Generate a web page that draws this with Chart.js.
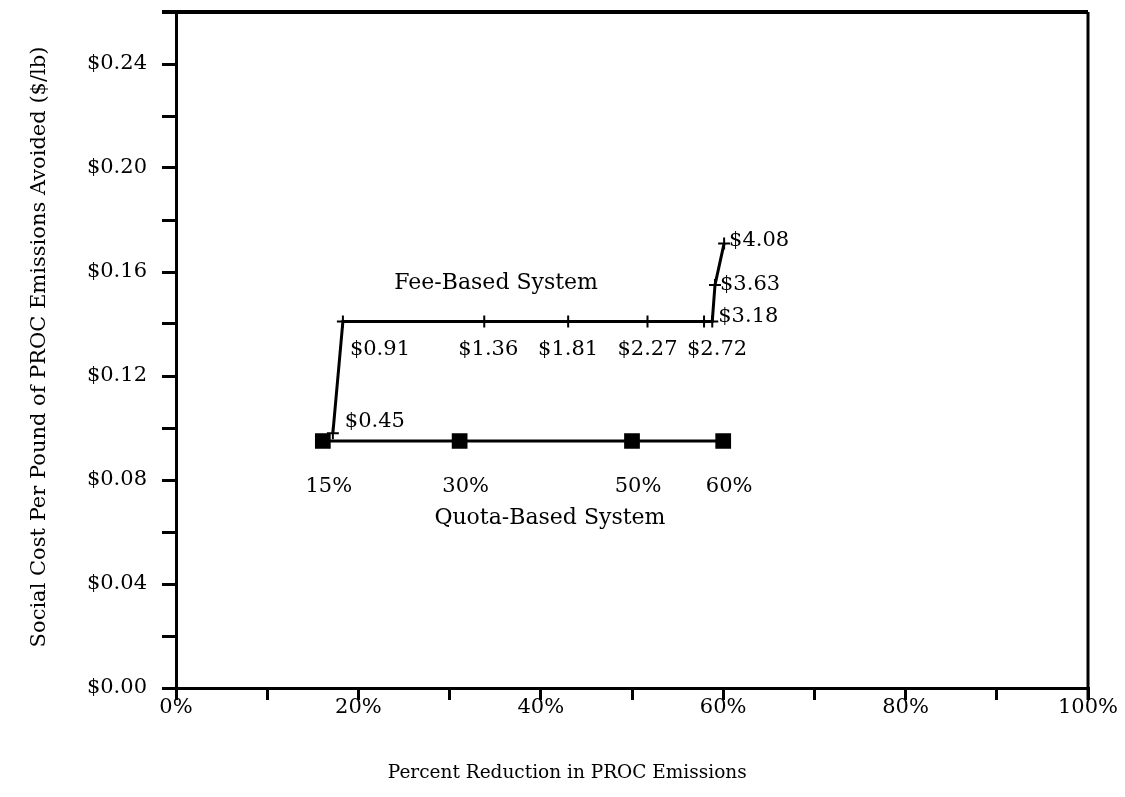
<!DOCTYPE html>
<html>
<head>
<meta charset="utf-8">
<script src="https://cdn.jsdelivr.net/npm/chart.js@4/dist/chart.umd.min.js"></script>
<style>
    html, body { margin: 0; padding: 0; background: #fff; }
    #wrap { width: 1125px; height: 797px; }
</style>
</head>
<body>
<div id="wrap"><canvas id="graficoCanvas"></canvas></div>
<script>
// Fee-based system: % reduction, cost per lb avoided, fee labels
const feeReduction = [17.2, 18.3, 33.8, 43.0, 51.7, 57.9, 58.8, 59.1, 60.1]
const feeCost = [0.098, 0.141, 0.141, 0.141, 0.141, 0.141, 0.141, 0.155, 0.171]
const feeLabels = ['$0.45', '$0.91', '$1.36', '$1.81', '$2.27', '$2.72', '$3.18', '$3.63', '$4.08']

// Quota-based system
const quotaReduction = [16.1, 31.1, 50.0, 60.0]
const quotaCost = [0.095, 0.095, 0.095, 0.095]
const quotaLabels = ['15%', '30%', '50%', '60%']

// labelled ticks (minor ticks in between carry no text)
const xTickLabels = [0, 20, 40, 60, 80, 100]
const yTickLabels = [0, 4, 8, 12, 16, 20, 24]   // cents

const FONTE = '"DejaVu Serif", serif'

// label offsets from their point, in px: [dx, dy, align]
const feeLabelOffsets = [[12, -12, 'left'], [7, 28, 'left'], [4, 28, 'center'], [0, 28, 'center'], [0, 28, 'center'],
    [13, 28, 'center'], [6, -5, 'left'], [5, 0, 'left'], [5, -3, 'left']]
const quotaLabelOffsets = quotaLabels.map(() => [6, 46, 'center'])

const textosPlugin = {
    id: 'textos',
    afterDatasetsDraw(chart) {
        const ctx = chart.ctx
        const x = chart.scales.x
        const y = chart.scales.y
        const area = chart.chartArea
        ctx.save()
        ctx.fillStyle = '#000'
        ctx.textBaseline = 'middle'
        ctx.font = `21px ${FONTE}`
        chart.data.datasets.forEach((ds, i) => {
            let meta = chart.getDatasetMeta(i)
            meta.data.forEach((pt, j) => {
                let off = ds.labelOffsets[j]
                ctx.textAlign = off[2]
                ctx.fillText(ds.pointLabels[j], pt.x + off[0], pt.y + off[1])
            })
        })
        ctx.textAlign = 'center'
        ctx.font = `22px ${FONTE}`
        ctx.fillText('Fee-Based System', x.getPixelForValue(35.1), y.getPixelForValue(0.1557))
        ctx.fillText('Quota-Based System', x.getPixelForValue(41), y.getPixelForValue(0.0652))

        // axis titles
        ctx.font = `18.5px ${FONTE}`
        ctx.fillText('Percent Reduction in PROC Emissions', x.getPixelForValue(42.9), area.bottom + 85)
        ctx.font = `21px ${FONTE}`
        ctx.translate(40, (area.top + area.bottom) / 2 - 3)
        ctx.rotate(-Math.PI / 2)
        ctx.fillText('Social Cost Per Pound of PROC Emissions Avoided ($/lb)', 0, 0)
        ctx.restore()
    }
}

const molduraPlugin = {
    id: 'moldura',
    afterDraw(chart) {
        const { ctx, chartArea: { top, right, bottom, left } } = chart
        ctx.save()
        ctx.strokeStyle = '#000'
        ctx.lineWidth = 4
        ctx.beginPath()
        ctx.moveTo(left - 14, top)
        ctx.lineTo(right, top)
        ctx.stroke()
        ctx.lineWidth = 3
        ctx.beginPath()
        ctx.moveTo(right, top)
        ctx.lineTo(right, bottom + 12)
        ctx.stroke()
        ctx.restore()
    }
}

new Chart(document.getElementById('graficoCanvas'), {
    type: 'line',
    data: {
        datasets: [
            {
                label: 'Fee-Based System',
                data: feeReduction.map((v, i) => ({ x: v, y: feeCost[i] })),
                pointLabels: feeLabels,
                labelOffsets: feeLabelOffsets,
                borderColor: '#000',
                backgroundColor: '#000',
                borderWidth: 3,
                pointStyle: 'cross',
                pointRadius: 6,
                pointBorderWidth: 2,
                tension: 0
            },
            {
                label: 'Quota-Based System',
                data: quotaReduction.map((v, i) => ({ x: v, y: quotaCost[i] })),
                pointLabels: quotaLabels,
                labelOffsets: quotaLabelOffsets,
                borderColor: '#000',
                backgroundColor: '#000',
                borderWidth: 3,
                pointStyle: 'rect',
                pointRadius: 9,
                tension: 0
            }
        ]
    },
    options: {
        responsive: true,
        maintainAspectRatio: false,
        animation: false,
        layout: {
            padding: { left: 0, right: 37, top: 10, bottom: 0 }
        },
        plugins: {
            legend: { display: false },
            tooltip: { enabled: false }
        },
        scales: {
            x: {
                type: 'linear',
                min: 0,
                max: 100,
                border: { color: '#000', width: 3 },
                grid: { drawOnChartArea: false, color: '#000', lineWidth: 3, tickLength: 12 },
                ticks: {
                    stepSize: 10,
                    autoSkip: false,
                    maxRotation: 0,
                    padding: -5,
                    color: '#000',
                    font: { family: FONTE, size: 21 },
                    callback: function (value) {
                        return xTickLabels.includes(Math.round(value)) ? value + '%' : ''
                    }
                },
                afterFit: function (scale) {
                    scale.height = 109
                }
            },
            y: {
                type: 'linear',
                min: 0,
                max: 0.26,
                border: { color: '#000', width: 3 },
                grid: { drawOnChartArea: false, color: '#000', lineWidth: 3, tickLength: 14 },
                ticks: {
                    stepSize: 0.02,
                    autoSkip: false,
                    padding: 15,
                    color: '#000',
                    font: { family: FONTE, size: 21 },
                    callback: function (value) {
                        return yTickLabels.includes(Math.round(value * 100)) ? '$' + value.toFixed(2) : ''
                    }
                },
                afterFit: function (scale) {
                    scale.width = 176
                    scale.paddingTop = 0
                    scale.paddingBottom = 0
                }
            }
        }
    },
    plugins: [textosPlugin, molduraPlugin]
})
</script>
</body>
</html>
